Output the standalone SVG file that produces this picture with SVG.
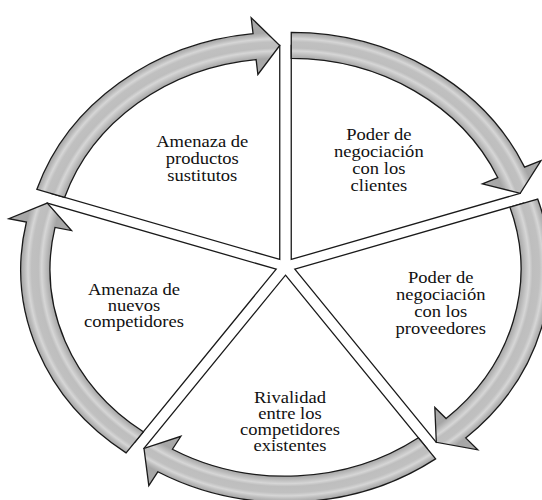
<svg xmlns="http://www.w3.org/2000/svg" xmlns:xlink="http://www.w3.org/1999/xlink" width="542" height="500" viewBox="0 0 542 500">
  <style>
    .sector { fill:#ffffff; stroke:#1a1a1a; stroke-width:1.3; vector-effect:non-scaling-stroke; stroke-linejoin:miter; }
    .arrow { fill:url(#band); stroke:#1a1a1a; stroke-width:1.3; vector-effect:non-scaling-stroke; stroke-linejoin:miter; }
    text { font-family:'Liberation Serif','Times New Roman','DejaVu Serif',serif; font-size:16.5px; text-anchor:middle; fill:#111111; }
  </style>
  <defs>
    <radialGradient id="band" gradientUnits="userSpaceOnUse" cx="0" cy="0" r="243">
      <stop offset="0.76" stop-color="#ababab"/>
      <stop offset="0.827" stop-color="#a6a6a6"/>
      <stop offset="0.842" stop-color="#bcbcbc"/>
      <stop offset="0.858" stop-color="#d6d6d6"/>
      <stop offset="0.87" stop-color="#bebebe"/>
      <stop offset="0.895" stop-color="#c0c0c0"/>
      <stop offset="0.908" stop-color="#d6d6d6"/>
      <stop offset="0.92" stop-color="#bcbcbc"/>
      <stop offset="0.934" stop-color="#a6a6a6"/>
      <stop offset="1" stop-color="#ababab"/>
    </radialGradient>
    <path id="sector" class="sector" d="M0 0 L0 -214 A214 214 0 0 1 203.53 -66.13 Z"/>
    <path id="arrow" class="arrow" d="M0 -227 A227 227 0 0 1 207.38 -92.33 L221.99 -98.84 L203.53 -66.13 L169.92 -75.65 L183.62 -81.75 A201 201 0 0 0 0 -201 Z"/>
  </defs>
  <g transform="translate(285.5 266.5) scale(1.125 1)" font-family="'Liberation Serif', 'Times New Roman', serif">
    <g id="node-sustitutos">
      <use xlink:href="#sector" transform="translate(-5.11 -7.04) rotate(288)"/>
      <text x="-74" y="-119.5">Amenaza de</text>
      <text x="-74" y="-102.5">productos</text>
      <text x="-74" y="-85.5">sustitutos</text>
    </g>
    <g id="node-clientes">
      <use xlink:href="#sector" transform="translate(5.11 -7.04)"/>
      <text x="83" y="-126.5">Poder de</text>
      <text x="83" y="-109.5">negociación</text>
      <text x="83" y="-92.5">con los</text>
      <text x="83" y="-75.5">clientes</text>
    </g>
    <g id="node-proveedores">
      <use xlink:href="#sector" transform="translate(8.27 2.69) rotate(72)"/>
      <text x="138" y="16.5">Poder de</text>
      <text x="138" y="33.5">negociación</text>
      <text x="138" y="50.5">con los</text>
      <text x="138" y="67.5">proveedores</text>
    </g>
    <g id="node-rivalidad">
      <use xlink:href="#sector" transform="translate(0 8.7) rotate(144)"/>
      <text x="4" y="137">Rivalidad</text>
      <text x="4" y="153">entre los</text>
      <text x="4" y="169">competidores</text>
      <text x="4" y="185">existentes</text>
    </g>
    <g id="node-nuevos">
      <use xlink:href="#sector" transform="translate(-8.27 2.69) rotate(216)"/>
      <text x="-134.7" y="28.5">Amenaza de</text>
      <text x="-134.7" y="44.5">nuevos</text>
      <text x="-134.7" y="60.5">competidores</text>
    </g>
    <g id="connectors">
      <use xlink:href="#arrow" transform="translate(-5.11 -7.04) rotate(288)"/>
      <use xlink:href="#arrow" transform="translate(5.11 -7.04)"/>
      <use xlink:href="#arrow" transform="translate(8.27 2.69) rotate(72)"/>
      <use xlink:href="#arrow" transform="translate(0 8.7) rotate(144)"/>
      <use xlink:href="#arrow" transform="translate(-8.27 2.69) rotate(216)"/>
    </g>
  </g>
</svg>
